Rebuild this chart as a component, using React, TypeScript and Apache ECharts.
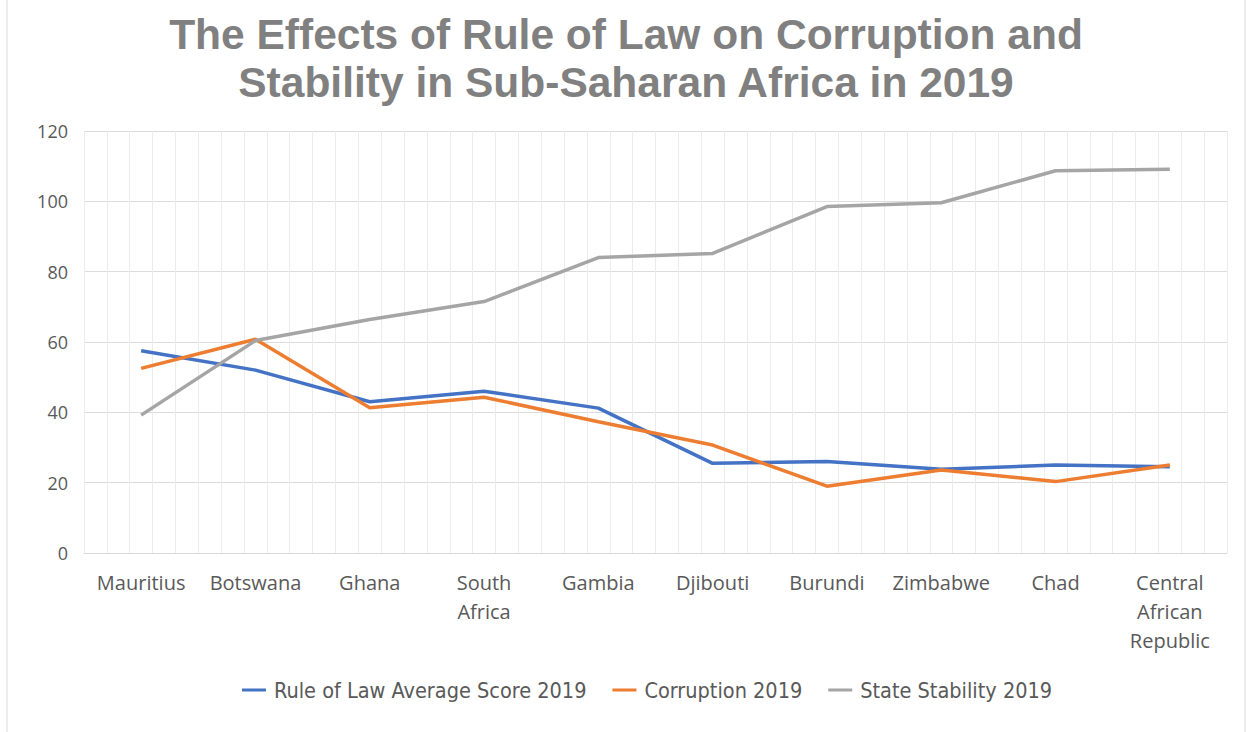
import React, { useEffect, useRef } from "react";
import * as echarts from "echarts";

const countries = [
  "Mauritius",
  "Botswana",
  "Ghana",
  "South Africa",
  "Gambia",
  "Djibouti",
  "Burundi",
  "Zimbabwe",
  "Chad",
  "Central African Republic",
];
const ruleOfLaw = [57.5, 52, 43, 46, 41.2, 25.5, 26, 23.8, 25, 24.5];
const corruption = [52.5, 60.8, 41.3, 44.3, 37.3, 30.7, 19, 23.6, 20.3, 25];
const stability = [39.2, 60.4, 66.4, 71.5, 84, 85.2, 98.5, 99.6, 108.7, 109.1];
const yTicks = [0, 20, 40, 60, 80, 100, 120];
const seriesNames = [
  "Rule of Law Average Score 2019",
  "Corruption 2019",
  "State Stability 2019",
];
const labelLines: Record<string, string> = {
  "South Africa": "South\nAfrica",
  "Central African Republic": "Central\nAfrican\nRepublic",
};

export default function App() {
  const ref = useRef<HTMLDivElement>(null);
  useEffect(() => {
    document.body.style.margin = "0";
    const chart = echarts.init(ref.current!, null, { renderer: "svg" });
    const labelFont = "'Open Sans', 'Noto Sans', sans-serif";
    chart.setOption({
      animation: false,
      backgroundColor: "#ffffff",
      title: {
        text: "The Effects of Rule of Law on Corruption and\nStability in Sub-Saharan Africa in 2019",
        left: "center",
        top: 5,
        textStyle: {
          fontFamily: "'Liberation Sans', Arial, sans-serif",
          fontWeight: "bold",
          fontSize: 42.5,
          lineHeight: 48,
          color: "#808080",
        },
      },
      legend: {
        bottom: 26,
        left: 237,
        itemWidth: 24,
        itemHeight: 3,
        itemGap: 26,
        icon: "rect",
        textStyle: {
          fontFamily: "'DejaVu Sans Condensed', 'Liberation Sans Narrow', sans-serif",
          fontSize: 21.5,
          color: "#595959",
          padding: [0, 0, 0, 3],
        },
        data: seriesNames,
      },
      grid: { left: 84, right: 25, top: 131, bottom: 179, containLabel: false },
      xAxis: [
        {
          type: "category",
          data: countries,
          boundaryGap: true,
          axisLine: { lineStyle: { color: "#d9d9d9", width: 1 } },
          axisTick: { show: false },
          splitLine: { show: false },
          axisLabel: {
            interval: 0,
            margin: 15,
            fontFamily: labelFont,
            fontSize: 20,
            lineHeight: 29,
            color: "#595959",
            formatter: (v: string) => labelLines[v] ?? v,
          },
        },
        {
          type: "value",
          min: 0,
          max: 50,
          interval: 1,
          position: "bottom",
          axisLine: { show: false },
          axisTick: { show: false },
          axisLabel: { show: false },
          splitLine: { show: true, lineStyle: { color: "#ececec", width: 1 } },
        },
      ],
      yAxis: {
        type: "value",
        min: yTicks[0],
        max: yTicks[yTicks.length - 1],
        interval: 20,
        axisLine: { show: false },
        axisTick: { show: false },
        axisLabel: {
          margin: 16,
          fontFamily: labelFont,
          fontSize: 18,
          color: "#595959",
        },
        splitLine: { lineStyle: { color: "#dcdcdc", width: 1 } },
      },
      series: [
        {
          name: seriesNames[0],
          type: "line",
          data: ruleOfLaw,
          showSymbol: false,
          symbol: "none",
          lineStyle: { width: 3.5, color: "#4472c4" },
          itemStyle: { color: "#4472c4" },
        },
        {
          name: seriesNames[1],
          type: "line",
          data: corruption,
          showSymbol: false,
          symbol: "none",
          lineStyle: { width: 3.5, color: "#ed7d31" },
          itemStyle: { color: "#ed7d31" },
        },
        {
          name: seriesNames[2],
          type: "line",
          data: stability,
          showSymbol: false,
          symbol: "none",
          lineStyle: { width: 3.5, color: "#a5a5a5" },
          itemStyle: { color: "#a5a5a5" },
        },
      ],
      graphic: [
        {
          type: "rect",
          shape: { x: 7, y: -2, width: 1238, height: 740 },
          style: { fill: "none", stroke: "#d9d9d9", lineWidth: 1 },
          silent: true,
        },
      ],
    });
    return () => chart.dispose();
  }, []);
  return (
    <div
      ref={ref}
      style={{ position: "absolute", left: 0, top: 0, width: 1252, height: 732 }}
    />
  );
}
